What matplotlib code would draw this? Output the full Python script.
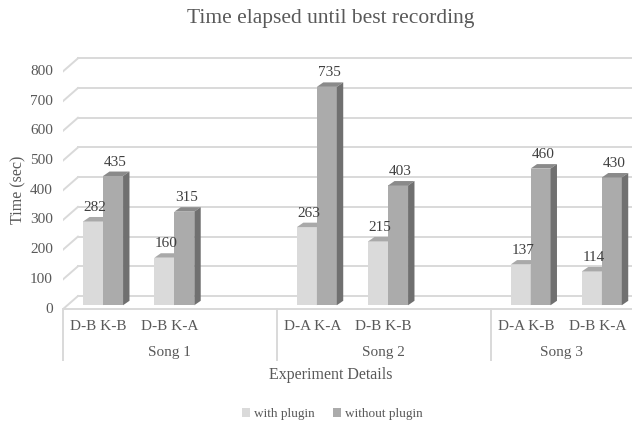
import matplotlib
matplotlib.use("Agg")
import matplotlib.pyplot as plt
from matplotlib.patches import Polygon, Patch

# data
songs = ["Song 1", "Song 2", "Song 3"]
song_slots = [3, 3, 2]          # category slots per song (Excel left blank slots)
conditions = ["D-B K-B", "D-B K-A", "D-A K-A", "D-B K-B", "D-A K-B", "D-B K-A"]
condition_song = [0, 0, 1, 1, 2, 2]
with_plugin = [282, 160, 263, 215, 137, 114]
without_plugin = [435, 315, 735, 403, 460, 430]
yticks = list(range(0, 801, 100))

# pseudo-3d style
TEXT = "#595959"
GRID = "#d9d9d9"
WALL_DX, WALL_DY = 0.21, 44     # back wall offset (slots, value units)
PLANE_DX, PLANE_DY = 0.063, 13  # bar plane offset from floor front
BAR_DX, BAR_DY = 0.09, 15       # bar depth
BAR_W = 0.28
LIGHT = ("#dadada", "#a9a9a9", "#bcbcbc")   # front, top, side
DARK = ("#ababab", "#8a8a8a", "#707070")

plt.rcParams['font.family'] = ['Liberation Serif', 'DejaVu Serif']

fig = plt.figure(figsize=(6.32, 4.23), dpi=100)
ax = fig.add_axes([63 / 632, 61 / 423, 570 / 632, 312 / 423])
n_slots = sum(song_slots)
ax.set_xlim(0, n_slots)
ax.set_ylim(-178, 872)
ax.axis("off")

# walls and gridlines
for v in yticks:
    ax.plot([WALL_DX, n_slots], [v + WALL_DY] * 2, color=GRID, lw=1.4, zorder=1)
    ax.plot([0, WALL_DX], [v, v + WALL_DY], color=GRID, lw=1.4, zorder=1)
    ax.text(-0.14, v, str(v), ha="right", va="center", fontsize=11, color=TEXT)
ax.plot([0, n_slots], [0, 0], color=GRID, lw=1.4, zorder=1)

# category dividers
starts = [sum(song_slots[:i]) for i in range(len(songs))]
for s in starts + [n_slots]:
    ax.plot([s, s], [0, -172], color=GRID, lw=1.4, zorder=1, clip_on=False)
for i, name in enumerate(songs):
    ax.text(starts[i] + song_slots[i] / 2, -145, name, ha="center", va="center",
            fontsize=11, color=TEXT)

# slot index of each condition
counts = {}
slots = []
for c, s in zip(conditions, condition_song):
    k = counts.get(s, 0)
    slots.append(starts[s] + k)
    counts[s] = k + 1


def bar3d(x0, val, colors):
    front, top, side = colors
    x1 = x0 + BAR_W
    y0 = PLANE_DY
    y1 = PLANE_DY + val
    ax.add_patch(Polygon([(x0, y0), (x1, y0), (x1, y1), (x0, y1)],
                         closed=True, fc=front, ec="none", zorder=3))
    ax.add_patch(Polygon([(x0, y1), (x1, y1), (x1 + BAR_DX, y1 + BAR_DY),
                          (x0 + BAR_DX, y1 + BAR_DY)],
                         closed=True, fc=top, ec="none", zorder=3))
    ax.add_patch(Polygon([(x1, y0), (x1 + BAR_DX, y0 + BAR_DY),
                          (x1 + BAR_DX, y1 + BAR_DY), (x1, y1)],
                         closed=True, fc=side, ec="none", zorder=3))
    ax.text(x0 + BAR_W / 2 + 0.03, y1 + 47, str(val), ha="center", va="center",
            fontsize=11, color="#404040", zorder=4)


for slot, label, a, b in zip(slots, conditions, with_plugin, without_plugin):
    c = slot + 0.5 + PLANE_DX
    bar3d(c - BAR_W, a, LIGHT)
    bar3d(c, b, DARK)
    ax.text(slot + 0.5, -57, label, ha="center", va="center", fontsize=11, color=TEXT)

fig.text(331 / 632, 1 - 19 / 423, "Time elapsed until best recording", ha="center",
         va="center", fontsize=15.5, color=TEXT)
fig.text(331 / 632, 1 - 375 / 423, "Experiment Details", ha="center", va="center",
         fontsize=11.5, color=TEXT)
fig.text(18 / 632, 1 - 190 / 423, "Time (sec)", ha="center", va="center",
         rotation=90, fontsize=11.5, color=TEXT)

handles = [Patch(fc=LIGHT[0], ec="none"), Patch(fc=DARK[0], ec="none")]
fig.legend(handles, ["with plugin", "without plugin"], loc="center",
           bbox_to_anchor=(332 / 632, 1 - 414 / 423), ncol=2, frameon=False,
           fontsize=9.5, handlelength=0.6, handleheight=0.6, handletextpad=0.3,
           columnspacing=1.4, labelcolor=TEXT)

fig.savefig("out.png", dpi=100)
